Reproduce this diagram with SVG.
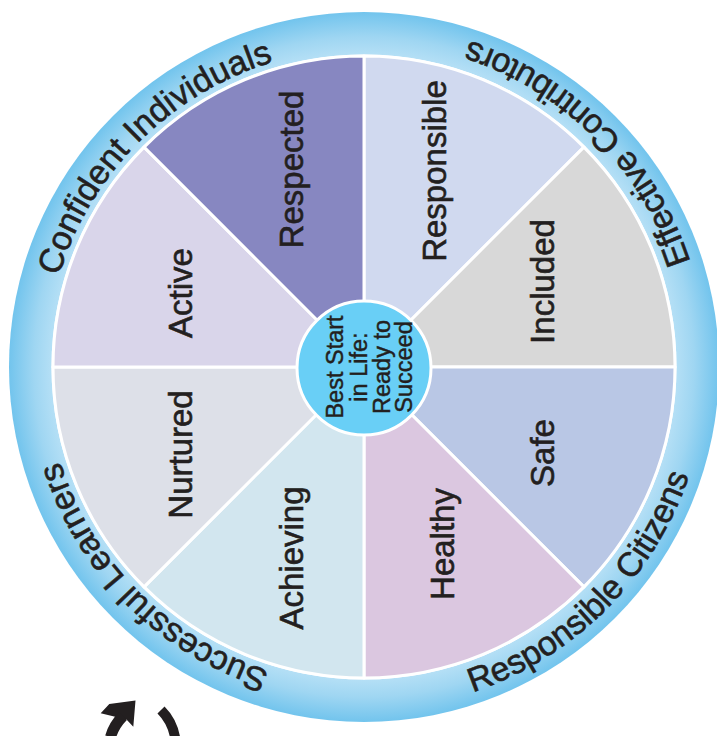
<svg xmlns="http://www.w3.org/2000/svg" width="717" height="736" viewBox="0 0 717 736">
<style>
.sector{stroke:#fff;stroke-width:3;stroke-linejoin:round}
.lbl{font-family:"Liberation Sans",Arial,Helvetica,sans-serif;font-size:33px;fill:#231f20;stroke:#231f20;stroke-width:0.6px;text-anchor:middle}
.ringtxt{font-family:"Liberation Sans",Arial,Helvetica,sans-serif;font-size:34px;fill:#231f20;stroke:#231f20;stroke-width:0.6px;text-anchor:middle}
.ctr{font-family:"Liberation Sans",Arial,Helvetica,sans-serif;font-size:23.5px;fill:#231f20;stroke:#231f20;stroke-width:0.45px;text-anchor:middle}
</style>
<defs>
<radialGradient id="ringGrad" gradientUnits="userSpaceOnUse" cx="364" cy="367" r="355">
<stop offset="0.86" stop-color="#bde3f7"/>
<stop offset="0.93" stop-color="#9fd6f2"/>
<stop offset="1" stop-color="#72c4ed"/>
</radialGradient>
<path id="arcConfident" d="M137.73,593.27 A320,320 0 0 1 590.27,140.73"/>
<path id="arcSuccessful" d="M590.27,593.27 A320,320 0 0 1 137.73,140.73"/>
<path id="arcEffective" d="M606.54,609.54 A343,343 0 0 0 121.46,124.46"/>
<path id="arcCitizens" d="M121.46,609.54 A343,343 0 0 0 606.54,124.46"/>
</defs>
<rect width="717" height="736" fill="#fff"/>

<g id="ring">
<circle cx="364" cy="367" r="355" fill="url(#ringGrad)"/>
<circle cx="364" cy="367" r="312.5" fill="#fff"/>
</g>

<g id="ring-labels">
<text class="ringtxt" id="lbl-confident"><textPath href="#arcConfident" startOffset="50%">Confident Individuals</textPath></text>
<text class="ringtxt" id="lbl-effective"><textPath href="#arcEffective" startOffset="50%">Effective Contributors</textPath></text>
<text class="ringtxt" id="lbl-citizens"><textPath href="#arcCitizens" startOffset="50%">Responsible Citizens</textPath></text>
<text class="ringtxt" id="lbl-learners"><textPath href="#arcSuccessful" startOffset="50%">Successful Learners</textPath></text>
</g>

<g id="node-responsible">
<path class="sector" fill="#d0d9ef" d="M364,367 L364,56 A311,311 0 0 1 583.91,147.09 Z"/>
<text class="lbl" transform="translate(446,171) rotate(-90)">Responsible</text>
</g>
<g id="node-included">
<path class="sector" fill="#d8d8d8" d="M364,367 L583.91,147.09 A311,311 0 0 1 675,367 Z"/>
<text class="lbl" transform="translate(554,281.5) rotate(-90)">Included</text>
</g>
<g id="node-safe">
<path class="sector" fill="#b9c7e5" d="M364,367 L675,367 A311,311 0 0 1 583.91,586.91 Z"/>
<text class="lbl" transform="translate(554,453) rotate(-90)">Safe</text>
</g>
<g id="node-healthy">
<path class="sector" fill="#dbc7e0" d="M364,367 L583.91,586.91 A311,311 0 0 1 364,678 Z"/>
<text class="lbl" transform="translate(454,544) rotate(-90)">Healthy</text>
</g>
<g id="node-achieving">
<path class="sector" fill="#d2e6ef" d="M364,367 L364,678 A311,311 0 0 1 144.09,586.91 Z"/>
<text class="lbl" transform="translate(303,558) rotate(-90)">Achieving</text>
</g>
<g id="node-nurtured">
<path class="sector" fill="#dde0e8" d="M364,367 L144.09,586.91 A311,311 0 0 1 53,367 Z"/>
<text class="lbl" transform="translate(192,454.5) rotate(-90)">Nurtured</text>
</g>
<g id="node-active">
<path class="sector" fill="#d9d5ea" d="M364,367 L53,367 A311,311 0 0 1 144.09,147.09 Z"/>
<text class="lbl" transform="translate(192,293) rotate(-90)">Active</text>
</g>
<g id="node-respected">
<path class="sector" fill="#8787c1" d="M364,367 L144.09,147.09 A311,311 0 0 1 364,56 Z"/>
<text class="lbl" transform="translate(303,169.5) rotate(-90)">Respected</text>
</g>

<g id="node-center">
<circle cx="364" cy="368" r="67" fill="#69cff6" stroke="#fff" stroke-width="3"/>
<text class="ctr" transform="translate(343,367) rotate(-90)">Best Start</text>
<text class="ctr" transform="translate(367,367) rotate(-90)">in Life:</text>
<text class="ctr" transform="translate(390,367) rotate(-90)">Ready to</text>
<text class="ctr" transform="translate(411.5,367) rotate(-90)">Succeed</text>
</g>

<g id="arrow-icon" fill="#231f20">
<path d="M100.7,713.3 L109.3,704 L135.5,700.5 L133.3,726.7 L126.5,719.5 Z"/>
<path d="M123,716 Q114,725 110.5,737" fill="none" stroke="#231f20" stroke-width="11"/>
<path d="M161,710 Q172,721 175,737" fill="none" stroke="#231f20" stroke-width="10"/>
</g>
</svg>
